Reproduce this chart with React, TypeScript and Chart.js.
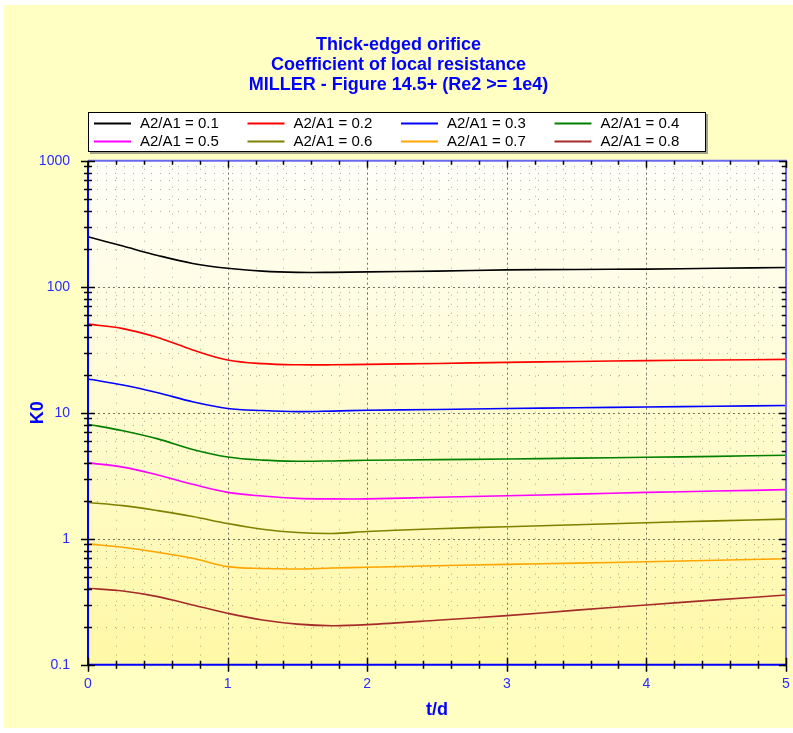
import React, { useEffect, useRef } from 'react';
import { Chart, registerables } from 'chart.js';

Chart.register(...registerables);

// ---------------- data ----------------
const titleLines = [
  'Thick-edged orifice',
  'Coefficient of local resistance',
  'MILLER - Figure 14.5+ (Re2 >= 1e4)',
];
const xAxisTitle = 't/d';
const yAxisTitle = 'K0';

const tValues = [0, 0.25, 0.5, 0.75, 1, 1.25, 1.5, 1.75, 2, 2.5, 3, 3.5, 4, 4.5, 5];

const seriesLabels = [
  'A2/A1 = 0.1',
  'A2/A1 = 0.2',
  'A2/A1 = 0.3',
  'A2/A1 = 0.4',
  'A2/A1 = 0.5',
  'A2/A1 = 0.6',
  'A2/A1 = 0.7',
  'A2/A1 = 0.8',
];
const seriesColors = ['#000000', '#FF0000', '#0000FF', '#008000', '#FF00FF', '#808000', '#FFA500', '#A52A2A'];

const k0Ratio01 = [249, 210, 177, 153, 140, 133, 130, 130, 131, 133, 136, 137, 138, 140, 142];
const k0Ratio02 = [50.5, 46.5, 39.5, 31.5, 26.2, 24.5, 24, 24, 24.2, 24.6, 25.1, 25.5, 25.9, 26.2, 26.5];
const k0Ratio03 = [18.5, 16.6, 14.4, 12.2, 10.8, 10.4, 10.2, 10.3, 10.45, 10.6, 10.8, 10.95, 11.1, 11.25, 11.4];
const k0Ratio04 = [8.1, 7.2, 6.2, 5.1, 4.45, 4.2, 4.12, 4.14, 4.19, 4.24, 4.29, 4.36, 4.43, 4.5, 4.6];
const k0Ratio05 = [4.0, 3.7, 3.2, 2.7, 2.33, 2.18, 2.09, 2.07, 2.07, 2.13, 2.19, 2.26, 2.33, 2.39, 2.45];
const k0Ratio06 = [1.94, 1.83, 1.67, 1.5, 1.32, 1.19, 1.12, 1.1, 1.14, 1.2, 1.245, 1.29, 1.34, 1.385, 1.43];
const k0Ratio07 = [0.91, 0.855, 0.78, 0.7, 0.6, 0.58, 0.575, 0.585, 0.593, 0.61, 0.626, 0.64, 0.656, 0.675, 0.694];
const k0Ratio08 = [0.404, 0.385, 0.347, 0.298, 0.256, 0.226, 0.21, 0.204, 0.208, 0.225, 0.245, 0.271, 0.298, 0.327, 0.357];

const seriesValues = [k0Ratio01, k0Ratio02, k0Ratio03, k0Ratio04, k0Ratio05, k0Ratio06, k0Ratio07, k0Ratio08];

const xMin = 0;
const xMax = 5;
const xMajorTicks = [0, 1, 2, 3, 4, 5];
const xTickLabels = ['0', '1', '2', '3', '4', '5'];
const xMinorPerMajor = 5;

const yMin = 0.1;
const yMax = 1000;
const yMajorTicks = [0.1, 1, 10, 100, 1000];
const yTickLabels = ['0.1', '1', '10', '100', '1000'];
const yMinorMultipliers = [2, 3, 4, 5, 6, 7, 8, 9];

// ---------------- helpers ----------------
const FONT = "'Liberation Sans', Arial, Helvetica, sans-serif";

function buildXTicks() {
  const out: { value: number; major: boolean }[] = [];
  for (let i = 0; i < xMajorTicks.length; i++) {
    out.push({ value: xMajorTicks[i], major: true });
    if (i < xMajorTicks.length - 1) {
      const step = (xMajorTicks[i + 1] - xMajorTicks[i]) / xMinorPerMajor;
      for (let k = 1; k < xMinorPerMajor; k++) {
        out.push({ value: Math.round((xMajorTicks[i] + k * step) * 1000) / 1000, major: false });
      }
    }
  }
  return out;
}

function buildYTicks() {
  const out: { value: number; major: boolean }[] = [];
  for (let i = 0; i < yMajorTicks.length; i++) {
    out.push({ value: yMajorTicks[i], major: true });
    if (i < yMajorTicks.length - 1) {
      for (const m of yMinorMultipliers) {
        out.push({ value: Math.round(yMajorTicks[i] * m * 1e6) / 1e6, major: false });
      }
    }
  }
  return out;
}

const decorPlugin = {
  id: 'decor',
  beforeDatasetsDraw(chart: any) {
    const { ctx, chartArea: a, scales } = chart;
    ctx.save();
    const g = ctx.createLinearGradient(0, a.top, 0, a.bottom);
    g.addColorStop(0, '#FFFFFA');
    g.addColorStop(1, '#FFF8A6');
    ctx.fillStyle = g;
    ctx.fillRect(a.left, a.top, a.right - a.left, a.bottom - a.top);

    const xs = scales.x;
    const ys = scales.y;
    ctx.lineWidth = 1;
    const drawGrid = (major: boolean) => {
      ctx.setLineDash(major ? [2, 3] : [1, 8]);
      ctx.strokeStyle = major ? 'rgba(90,90,80,0.85)' : 'rgba(120,120,100,0.6)';
      ctx.beginPath();
      for (const t of xs.ticks) {
        if (!!t.major !== major) continue;
        if (t.value <= xMin || t.value >= xMax) continue;
        const px = Math.round(xs.getPixelForValue(t.value)) + 0.5;
        ctx.moveTo(px, a.bottom);
        ctx.lineTo(px, a.top);
      }
      for (const t of ys.ticks) {
        if (!!t.major !== major) continue;
        if (t.value <= yMin || t.value >= yMax) continue;
        const py = Math.round(ys.getPixelForValue(t.value)) + 0.5;
        ctx.moveTo(a.left, py);
        ctx.lineTo(a.right, py);
      }
      ctx.stroke();
    };
    drawGrid(false);
    drawGrid(true);
    ctx.restore();
  },
  afterDatasetsDraw(chart: any) {
    const { ctx, chartArea: a, scales } = chart;
    const xs = scales.x;
    const ys = scales.y;
    ctx.save();
    ctx.setLineDash([]);
    ctx.lineWidth = 2;
    ctx.strokeStyle = '#6A6AF0';
    ctx.beginPath();
    ctx.moveTo(a.left, a.top);
    ctx.lineTo(a.right, a.top);
    ctx.lineTo(a.right, a.bottom);
    ctx.stroke();
    ctx.strokeStyle = '#0000FF';
    ctx.beginPath();
    ctx.moveTo(a.left, a.top);
    ctx.lineTo(a.left, a.bottom);
    ctx.lineTo(a.right, a.bottom);
    ctx.stroke();

    ctx.strokeStyle = '#000000';
    ctx.lineWidth = 1.5;
    ctx.beginPath();
    for (const t of xs.ticks) {
      const px = Math.round(xs.getPixelForValue(t.value)) + 0.5;
      const L = t.major ? 7 : 4;
      ctx.moveTo(px, a.bottom - L);
      ctx.lineTo(px, a.bottom + L);
      ctx.moveTo(px, a.top);
      ctx.lineTo(px, a.top + L);
    }
    for (const t of ys.ticks) {
      const py = Math.round(ys.getPixelForValue(t.value)) + 0.5;
      const L = t.major ? 7 : 4;
      ctx.moveTo(a.left - L, py);
      ctx.lineTo(a.left + L, py);
      ctx.moveTo(a.right, py);
      ctx.lineTo(a.right - L, py);
    }
    ctx.stroke();
    ctx.restore();
  },
  afterDraw(chart: any) {
    const { ctx } = chart;
    const box = { left: 84, top: 107, right: 702, bottom: 147 };
    ctx.save();
    ctx.setLineDash([]);
    ctx.fillStyle = 'rgba(100,100,100,0.6)';
    ctx.fillRect(box.left + 2, box.top + 2, box.right - box.left, box.bottom - box.top);
    ctx.fillStyle = '#FFFFFF';
    ctx.fillRect(box.left, box.top, box.right - box.left, box.bottom - box.top);
    ctx.strokeStyle = '#000000';
    ctx.lineWidth = 1;
    ctx.strokeRect(box.left + 0.5, box.top + 0.5, box.right - box.left - 1, box.bottom - box.top - 1);

    const colStart = [90, 243.5, 397, 550.5];
    const rowY = [118, 136];
    ctx.font = `15px ${FONT}`;
    ctx.textBaseline = 'middle';
    ctx.textAlign = 'left';
    chart.data.datasets.forEach((ds: any, i: number) => {
      const col = i % 4;
      const row = Math.floor(i / 4);
      const x0 = colStart[col];
      const y0 = rowY[row];
      ctx.strokeStyle = ds.borderColor;
      ctx.lineWidth = 2;
      ctx.beginPath();
      ctx.moveTo(x0, y0 + 0.5);
      ctx.lineTo(x0 + 37, y0 + 0.5);
      ctx.stroke();
      ctx.fillStyle = '#000000';
      ctx.fillText(ds.label, x0 + 46, y0 + 1);
    });
    ctx.restore();
  },
};

export default function App() {
  const canvasRef = useRef<HTMLCanvasElement | null>(null);

  useEffect(() => {
    if (!canvasRef.current) return;
    Chart.defaults.font.family = FONT;

    const datasets = seriesValues.map((vals, i) => ({
      label: seriesLabels[i],
      data: tValues.map((t, j) => ({ x: t, y: vals[j] })),
      borderColor: seriesColors[i],
      backgroundColor: seriesColors[i],
      borderWidth: 1.6,
      pointRadius: 0,
      pointHoverRadius: 0,
      fill: false,
      cubicInterpolationMode: 'default' as const,
      tension: 0.35,
    }));

    const xTickSet = buildXTicks();
    const yTickSet = buildYTicks();

    const chart = new Chart(canvasRef.current, {
      type: 'line',
      data: { datasets },
      plugins: [decorPlugin],
      options: {
        animation: false,
        responsive: false,
        devicePixelRatio: 1,
        events: [],
        layout: { padding: { left: 0, right: 0, top: 0, bottom: 0 } },
        plugins: {
          legend: { display: false },
          tooltip: { enabled: false },
          title: {
            display: true,
            text: titleLines,
            color: '#0000FF',
            font: { size: 18, weight: 'bold', lineHeight: 1.1, family: FONT },
            padding: { top: 30.1, bottom: 66.2 },
          },
        },
        scales: {
          x: {
            type: 'linear',
            min: xMin,
            max: xMax,
            grid: { display: false },
            border: { display: false },
            afterBuildTicks: (scale: any) => {
              scale.ticks = xTickSet.map((t) => ({ ...t }));
            },
            afterFit: (scale: any) => {
              scale.height = 63.3;
              scale.paddingRight = 7;
            },
            ticks: {
              autoSkip: false,
              maxRotation: 0,
              padding: 3,
              color: '#2A2AFF',
              font: { size: 14, family: FONT },
              callback: (value: any) => {
                const idx = xMajorTicks.findIndex((m) => Math.abs(m - Number(value)) < 1e-9);
                return idx >= 0 ? xTickLabels[idx] : '';
              },
            },
            title: {
              display: true,
              text: xAxisTitle,
              color: '#0000FF',
              font: { size: 18, weight: 'bold', family: FONT },
              padding: { top: 0, bottom: 7.2 },
            },
          },
          y: {
            type: 'logarithmic',
            min: yMin,
            max: yMax,
            grid: { display: false },
            border: { display: false },
            afterBuildTicks: (scale: any) => {
              scale.ticks = yTickSet.map((t) => ({ ...t }));
            },
            afterFit: (scale: any) => {
              scale.width = 84;
            },
            ticks: {
              autoSkip: false,
              padding: 10,
              color: '#2A2AFF',
              font: { size: 14, family: FONT },
              callback: (value: any) => {
                const idx = yMajorTicks.findIndex((m) => Math.abs(m - Number(value)) / m < 1e-6);
                return idx >= 0 ? yTickLabels[idx] : '';
              },
            },
            title: {
              display: true,
              text: yAxisTitle,
              color: '#0000FF',
              font: { size: 18, weight: 'bold', family: FONT },
              padding: { top: 23.5, bottom: 0 },
            },
          },
        },
      },
    });

    return () => {
      chart.destroy();
    };
  }, []);

  return (
    <div style={{ position: 'absolute', left: 0, top: 0, width: 793, height: 733, background: '#FFFFFF' }}>
      <div style={{ position: 'absolute', left: 4, top: 5, width: 789, height: 723, background: '#FFFFC4' }}>
        <canvas ref={canvasRef} width={789} height={723} style={{ display: 'block', width: 789, height: 723 }} />
      </div>
    </div>
  );
}
